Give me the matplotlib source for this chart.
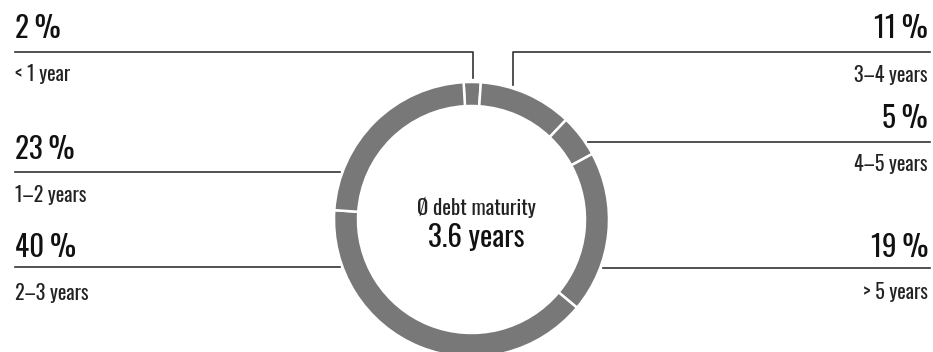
import matplotlib.pyplot as plt

# Debt maturity profile, clockwise from the top of the ring
buckets = ['< 1 year', '3–4 years', '4–5 years', '> 5 years', '2–3 years', '1–2 years']
shares = [2, 11, 5, 19, 40, 23]
avg_label = 'Ø debt maturity'
avg_value = '3.6 years'

plt.rcParams['font.family'] = ['Oswald', 'DejaVu Sans']

W, H = 933, 352
fig = plt.figure(figsize=(W / 100, H / 100), dpi=100)

# overlay axes in pixel coordinates for labels and leader lines
ax = fig.add_axes([0, 0, 1, 1])
ax.set_xlim(0, W)
ax.set_ylim(H, 0)
ax.axis('off')

# donut
cx, cy, r = 471.5, 219.5, 137.5
pax = fig.add_axes([(cx - r) / W, (H - cy - r) / H, 2 * r / W, 2 * r / H])
pax.pie(shares, startangle=93.3, counterclock=False, radius=1.0,
        colors=['#787878'] * len(shares),
        wedgeprops=dict(width=24 / r, edgecolor='white', linewidth=1.8))
pax.set_xlim(-1, 1)
pax.set_ylim(-1, 1)
pax.set_aspect('equal')
pax.axis('off')

lc = '#333333'
lw = 1.2
txt = '#111111'
big = 21
small = 14.5


def pct(v):
    return f'{v}\u2009%'


def label(x, y_pct, y_sub, i, ha='left'):
    ax.text(x, y_pct, pct(shares[i]), fontsize=big, color=txt, va='baseline', ha=ha)
    ax.text(x, y_sub, buckets[i], fontsize=small, color='#222222', va='baseline', ha=ha, fontweight='light')


# left side
ax.plot([15, 473, 473], [52, 52, 78], color=lc, lw=lw)
label(15, 38, 81, 0)
ax.plot([15, 340], [171.5, 171.5], color=lc, lw=lw)
label(15, 159, 202, 5)
ax.plot([15, 340], [266.5, 266.5], color=lc, lw=lw)
label(15, 257, 300, 4)

# right side
ax.plot([513, 513, 930], [85, 52, 52], color=lc, lw=lw)
label(928, 38, 82, 1, 'right')
ax.plot([588, 930], [141.5, 141.5], color=lc, lw=lw)
label(928, 128, 171, 2, 'right')
ax.plot([603, 930], [267.5, 267.5], color=lc, lw=lw)
label(928, 257, 299, 3, 'right')

# centre caption
ax.text(476, 215, avg_label, fontsize=15, color='#222222', ha='center', va='baseline', fontweight='light')
ax.text(476, 247, avg_value, fontsize=21, color=txt, ha='center', va='baseline', fontweight='bold')

fig.savefig('out.png', dpi=100)
